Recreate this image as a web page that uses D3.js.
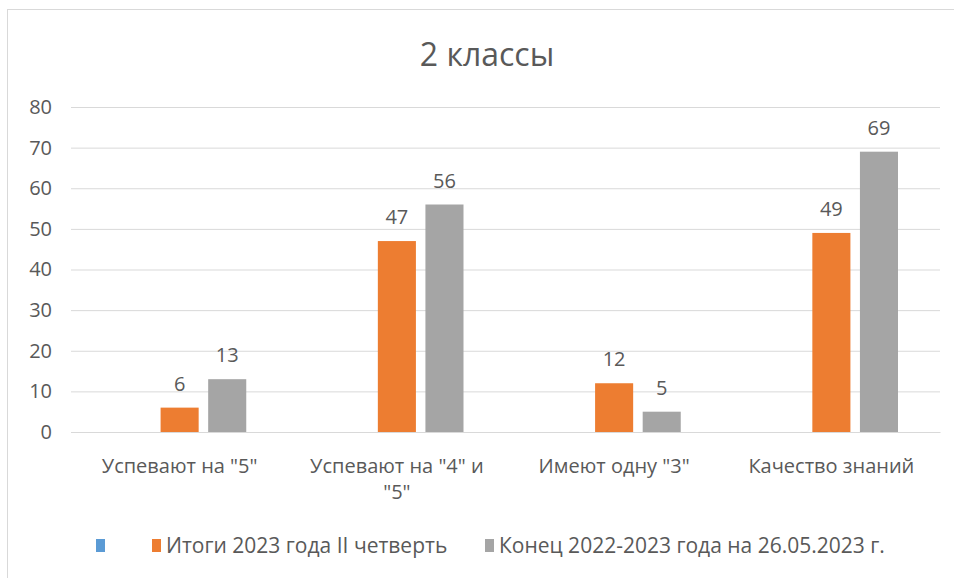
<!DOCTYPE html>
<html lang="ru">
<head>
<meta charset="UTF-8">
<title>2 классы</title>
<script src="https://d3js.org/d3.v7.min.js"></script>
<style>
    body{ margin:0; background:#fff; }
    .chart text{ fill:#595959; font-family:"Open Sans","Noto Sans",sans-serif; }
    .grid line{ stroke:#d9d9d9; }
    .grid path{ display:none; }
</style>
</head>
<body>
<svg class="chart"></svg>
<script>
const categories = ['Успевают на "5"', 'Успевают на "4" и "5"', 'Имеют одну "3"', 'Качество знаний'];
const seriesNames = ['', 'Итоги 2023 года II четверть', 'Конец 2022-2023 года на 26.05.2023 г.'];
const seriesColors = ['#5b9bd5', '#ed7d31', '#a5a5a5'];
const blank = [null, null, null, null];
const itogi = [6, 47, 12, 49];
const konec = [13, 56, 5, 69];
const yTicks = [0, 10, 20, 30, 40, 50, 60, 70, 80];

const W = 954, H = 578;
const margin = {top:107, right:14, bottom:146, left:71};
const width = W - margin.left - margin.right;
const height = H - margin.top - margin.bottom;

const svg = d3.select('.chart').attr('width', W).attr('height', H);

// chart frame
svg.append('rect')
    .attr('x', 7.5).attr('y', 9.5)
    .attr('width', 1000).attr('height', 700)
    .attr('fill', '#fff').attr('stroke', '#d9d9d9');

svg.append('text')
    .attr('x', 487).attr('y', 66)
    .attr('text-anchor', 'middle')
    .style('font-size', '32px')
    .text('2 классы');

const g = svg.append('g').attr('transform', 'translate(' + margin.left + ',' + margin.top + ')');

const x = d3.scaleBand().domain(categories).range([0, width]);
const y = d3.scaleLinear().domain([0, 80]).range([height, 0]);
const xs = d3.scaleBand().domain(d3.range(3)).range([42, x.bandwidth() - 42]).paddingInner(0.2);

g.append('g').attr('class', 'grid')
    .call(d3.axisLeft(y).tickValues(yTicks).tickSize(-width).tickFormat(''));

const yAx = g.append('g')
    .call(d3.axisLeft(y).tickValues(yTicks).tickSize(0).tickPadding(19));
yAx.select('.domain').remove();
yAx.selectAll('text').style('font-size', '20px');

const data = [blank, itogi, konec];
data.forEach((vals, si) => {
    const grp = g.append('g');
    const rows = categories.map((c, i) => ({c: c, v: vals[i]})).filter(d => d.v != null);
    grp.selectAll('rect').data(rows).enter().append('rect')
        .attr('x', d => x(d.c) + xs(si))
        .attr('y', d => y(d.v))
        .attr('width', xs.bandwidth())
        .attr('height', d => height - y(d.v))
        .attr('fill', seriesColors[si]);
    grp.selectAll('text').data(rows).enter().append('text')
        .attr('x', d => x(d.c) + xs(si) + xs.bandwidth() / 2)
        .attr('y', d => y(d.v) - 17)
        .attr('text-anchor', 'middle')
        .style('font-size', '20px')
        .text(d => d.v);
});

// category labels with wrap
const xAx = g.append('g').attr('transform', 'translate(0,' + height + ')')
    .call(d3.axisBottom(x).tickSize(0).tickPadding(0));
xAx.select('.domain').attr('stroke', '#d9d9d9');
xAx.selectAll('text').attr('dy', null).style('font-size', '20px').each(function(t) {
    const el = d3.select(this);
    const words = t.split(' ');
    el.text(null);
    let line = [], ln = 0;
    let ts = el.append('tspan').attr('x', 0).attr('y', 41);
    words.forEach(w => {
        line.push(w);
        ts.text(line.join(' '));
        if (ts.node().getComputedTextLength() > x.bandwidth() - 30 && line.length > 1) {
            line.pop();
            ts.text(line.join(' '));
            line = [w];
            ln++;
            ts = el.append('tspan').attr('x', 0).attr('y', 41 + ln * 26).text(w);
        }
    });
});

// legend
const legend = svg.append('g').attr('transform', 'translate(0,546)');
const legX = [96, 152, 485];
seriesNames.forEach((n, i) => {
    legend.append('rect')
        .attr('x', legX[i]).attr('y', -7)
        .attr('width', 9).attr('height', 13)
        .attr('fill', seriesColors[i]);
    legend.append('text')
        .attr('x', legX[i] + 14).attr('y', 7)
        .style('font-size', '21px')
        .text(n);
});
</script>
</body>
</html>
